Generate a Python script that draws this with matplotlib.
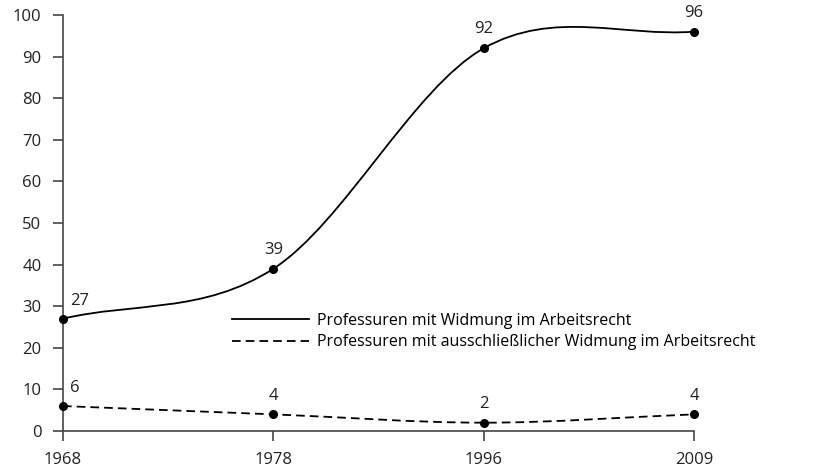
import matplotlib
matplotlib.use("Agg")
import matplotlib.pyplot as plt
from matplotlib.path import Path
from matplotlib.patches import PathPatch
from matplotlib.lines import Line2D

years = ["1968", "1978", "1996", "2009"]
widmung = [27, 39, 92, 96]
ausschl = [6, 4, 2, 4]
label_a = "Professuren mit Widmung im Arbeitsrecht"
label_b = "Professuren mit ausschließlicher Widmung im Arbeitsrecht"

plt.rcParams['font.family'] = ['Open Sans', 'DejaVu Sans']
plt.rcParams['font.size'] = 12

fig = plt.figure(figsize=(8.28, 4.72), dpi=100)
ax = fig.add_axes([63/828, 1 - 431/472, (694-63)/828, (431-15)/472])
ax.set_xlim(0, 3)
ax.set_ylim(0, 100)

def smooth_path(ys):
    xs = list(range(len(ys)))
    n = len(ys)
    tang = []
    for i in range(n):
        if i == 0:
            tang.append(ys[1] - ys[0])
        elif i == n - 1:
            tang.append(ys[-1] - ys[-2])
        else:
            tang.append((ys[i+1] - ys[i-1]) / 2)
    verts = [(xs[0], ys[0])]
    codes = [Path.MOVETO]
    for i in range(n - 1):
        verts += [(xs[i] + 1/3, ys[i] + tang[i]/3),
                  (xs[i+1] - 1/3, ys[i+1] - tang[i+1]/3),
                  (xs[i+1], ys[i+1])]
        codes += [Path.CURVE4] * 3
    return Path(verts, codes)

lw = 1.3
dash = (0, (4.8, 2.8))
pa = PathPatch(smooth_path(widmung), facecolor='none', edgecolor='black', lw=lw, clip_on=False)
ax.add_patch(pa)
pb = PathPatch(smooth_path(ausschl), facecolor='none', edgecolor='black', lw=lw, clip_on=False)
pb.set_linestyle(dash)
ax.add_patch(pb)

x = list(range(len(years)))
ax.plot(x, widmung, 'o', color='black', ms=5.5, clip_on=False, zorder=5)
ax.plot(x, ausschl, 'o', color='black', ms=5.5, clip_on=False, zorder=5)

offs = [(0.035, 2.4, 'left'), (0, 2.6, 'center'), (0, 2.6, 'center'), (0, 2.6, 'center')]
for i, v in enumerate(widmung):
    dx, dy, ha = offs[i]
    ax.text(i + dx, v + dy, str(v), ha=ha, va='bottom', fontsize=12, color='#222222')
for i, v in enumerate(ausschl):
    dx, dy, ha = offs[i]
    ax.text(i + dx, v + dy, str(v), ha=ha, va='bottom', fontsize=12, color='#222222')

ax.set_xticks(x)
ax.set_xticklabels(years)
ax.set_yticks(range(0, 101, 10))
for s in ['top', 'right']:
    ax.spines[s].set_visible(False)
for s in ['left', 'bottom']:
    ax.spines[s].set_color('#444444')
    ax.spines[s].set_linewidth(1.2)
ax.tick_params(axis='both', colors='#444444', width=1.2, length=7.5, labelcolor='#222222', labelsize=12)
ax.tick_params(axis='y', pad=8)
ax.tick_params(axis='x', pad=7.5)

handles = [Line2D([], [], color='black', lw=lw),
           Line2D([], [], color='black', lw=lw, linestyle=dash)]
fig.legend(handles, [label_a, label_b], loc='upper left',
           bbox_to_anchor=(232/828, 1 - 313/472), frameon=False,
           borderpad=0, borderaxespad=0, handlelength=4.85, handletextpad=0.5,
           labelspacing=0.33, fontsize=11.5)

fig.savefig("out.png", dpi=100)
